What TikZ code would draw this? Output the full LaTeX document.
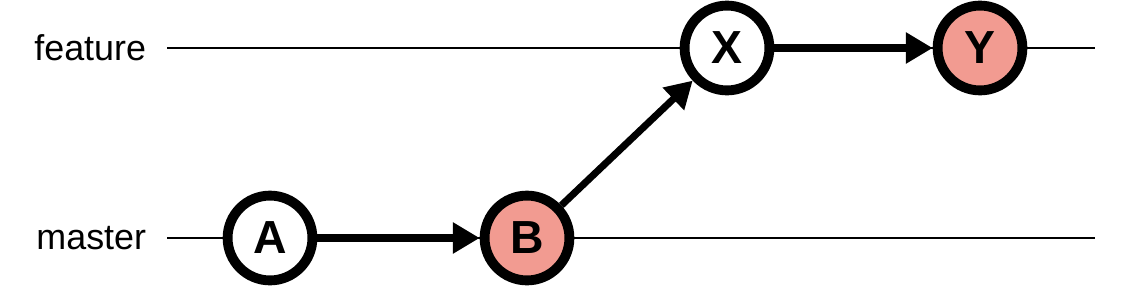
\documentclass[tikz,border=0pt]{standalone}
\usepackage{fontspec}
\setmainfont{Liberation Sans}
\usepackage{tikz}
\usetikzlibrary{arrows.meta,positioning}
\definecolor{salmon}{HTML}{F29B91}
\tikzset{
  commit/.style={circle, draw=black, line width=7pt, fill=white, minimum size=2.12cm, inner sep=0pt, font=\fontsize{33}{36}\selectfont\bfseries},
  commitr/.style={commit, fill=salmon},
  ar/.style={-{Triangle[length=19pt,width=21pt]}, line width=5pt},
  branch/.style={line width=1.4pt},
  lbl/.style={font=\fontsize{25.5}{30}\selectfont, anchor=east},
}
\begin{document}
\begin{tikzpicture}[x=0.025cm,y=-0.025cm]
    \useasboundingbox (0,0) rectangle (1128,302);
    % branches
    \coordinate (fs) at (167,48);
    \coordinate (fe) at (1095,48);
    \coordinate (ms) at (167,238);
    \coordinate (me) at (1095,238);
    \draw[branch] (fs) -- (fe);
    \draw[branch] (ms) -- (me);
    \node[lbl] (feature) at (151,48) {feature};
    \node[lbl] (master) at (151,238) {master};

    % commits
    \node[commit] (A) at (270,238) {A};
    \node[commitr] (B) at (527,238) {B};
    \node[commit] (X) at (727,48) {X};
    \node[commitr] (Y) at (980,48) {Y};

    \draw[ar] (A) -- (B);
    \draw[ar] (B) -- (X);
    \draw[ar] (X) -- (Y);
  \end{tikzpicture}
\end{document}
